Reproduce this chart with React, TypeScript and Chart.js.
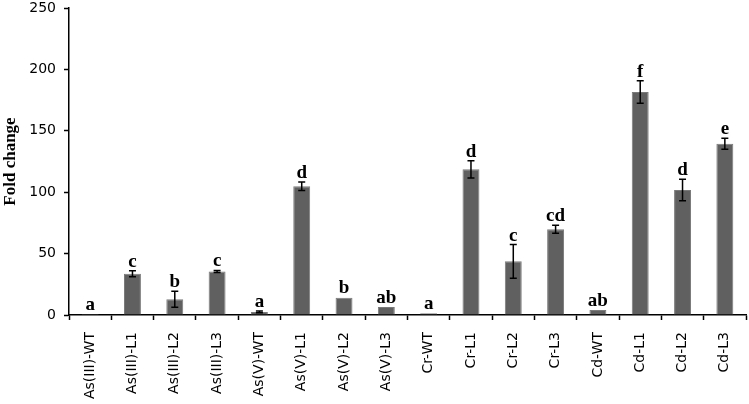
import React, { useEffect, useRef } from "react";
import { Chart, registerables } from "chart.js";

Chart.register(...registerables);

const categories = [
  "As(III)-WT", "As(III)-L1", "As(III)-L2", "As(III)-L3",
  "As(V)-WT", "As(V)-L1", "As(V)-L2", "As(V)-L3",
  "Cr-WT", "Cr-L1", "Cr-L2", "Cr-L3",
  "Cd-WT", "Cd-L1", "Cd-L2", "Cd-L3",
];
const foldChange = [0.8, 33.6, 12.8, 35.5, 2.5, 104.8, 14, 6.5, 1.5, 118.6, 43.7, 69.8, 4.1, 181.6, 101.8, 139.5];
const errors = [0.3, 2.5, 6.5, 0.8, 0.7, 3.5, 0.5, 0, 0, 7, 13.7, 3.2, 0, 9.2, 8.8, 4.5];
const letters = ["a", "c", "b", "c", "a", "d", "b", "ab", "a", "d", "c", "cd", "ab", "f", "d", "e"];
const yTicks = [0, 50, 100, 150, 200, 250];

const errorPlugin = {
  id: "errorLetters",
  afterDatasetsDraw(chart: any) {
    const ctx = chart.ctx;
    const meta = chart.getDatasetMeta(0);
    const y = chart.scales.y;
    ctx.save();
    meta.data.forEach((bar: any, i: number) => {
      const v = foldChange[i];
      const e = errors[i];
      const x = bar.x;
      const yTop = y.getPixelForValue(v + e);
      const yBot = y.getPixelForValue(v - e);
      if (e > 0.6) {
        ctx.strokeStyle = "#000";
        ctx.lineWidth = 1.5;
        ctx.beginPath();
        ctx.moveTo(x, yTop);
        ctx.lineTo(x, yBot);
        ctx.moveTo(x - 3.5, yTop);
        ctx.lineTo(x + 3.5, yTop);
        ctx.moveTo(x - 3.5, yBot);
        ctx.lineTo(x + 3.5, yBot);
        ctx.stroke();
      }
      ctx.fillStyle = "#000";
      ctx.font = "bold 19px 'Liberation Serif', serif";
      ctx.textAlign = "center";
      ctx.textBaseline = "alphabetic";
      ctx.fillText(letters[i], x, Math.min(yTop, bar.y) - 4);
    });
    ctx.restore();
  },
};

export default function App() {
  const ref = useRef<HTMLCanvasElement>(null);
  useEffect(() => {
    document.body.style.margin = "0";
    const chart = new Chart(ref.current!, {
      type: "bar",
      data: {
        labels: categories,
        datasets: [
          {
            data: foldChange,
            backgroundColor: "#606060",
            borderColor: "#7a7a7a",
            borderWidth: 1,
            barPercentage: 0.4,
            categoryPercentage: 1,
          },
        ],
      },
      options: {
        animation: false,
        responsive: false,
        maintainAspectRatio: false,
        layout: { padding: { top: 8, right: 3, left: 0, bottom: 0 } },
        plugins: { legend: { display: false }, tooltip: { enabled: false } },
        scales: {
          x: {
            offset: true,
            grid: { display: true, drawOnChartArea: false, offset: true, color: "#000", tickLength: 5, tickWidth: 1.5 },
            border: { display: true, color: "#000", width: 1.5 },
            ticks: {
              color: "#000",
              font: { family: "'DejaVu Sans', sans-serif", size: 14 },
              maxRotation: 90,
              minRotation: 90,
              autoSkip: false,
              padding: 12,
            },
            afterFit(scale: any) {
              scale.height = 89;
              scale.paddingTop = 0;
              scale.paddingBottom = 0;
              scale.paddingLeft = 0;
              scale.paddingRight = 0;
            },
          },
          y: {
            min: 0,
            max: 250,
            afterBuildTicks(scale: any) {
              scale.ticks = yTicks.map((v) => ({ value: v }));
            },
            grid: { display: true, drawOnChartArea: false, color: "#000", tickLength: 5, tickWidth: 1.5 },
            border: { display: true, color: "#000", width: 1.5 },
            ticks: {
              color: "#000",
              font: { family: "'DejaVu Sans', sans-serif", size: 14 },
              padding: 8,
            },
            title: {
              display: true,
              text: "Fold change",
              color: "#000",
              font: { family: "'Liberation Serif', serif", size: 17, weight: "bold" },
              padding: 0,
            },
            afterFit(scale: any) {
              scale.width = 69;
              scale.paddingTop = 0;
              scale.paddingBottom = 0;
            },
          },
        },
      },
      plugins: [errorPlugin],
    });
    return () => chart.destroy();
  }, []);
  return (
    <div style={{ position: "fixed", left: 0, top: 0, width: 749, height: 404, background: "#fff" }}>
      <canvas ref={ref} width={749} height={404} style={{ width: 749, height: 404 }} />
    </div>
  );
}
